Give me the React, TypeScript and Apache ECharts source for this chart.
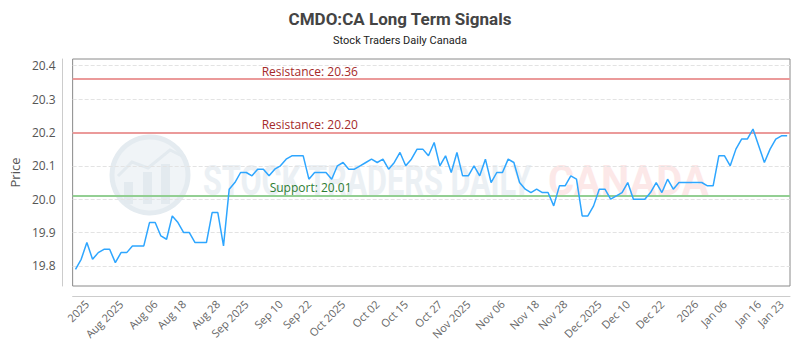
import React, { useEffect, useRef } from 'react';
import * as echarts from 'echarts';

const prices: number[] = [
  19.79, 19.82, 19.87, 19.82, 19.84, 19.85, 19.85, 19.81, 19.84, 19.84,
  19.86, 19.86, 19.86, 19.93, 19.93, 19.89, 19.88, 19.95, 19.93, 19.90,
  19.90, 19.87, 19.87, 19.87, 19.96, 19.96, 19.86, 20.03, 20.05, 20.08,
  20.08, 20.07, 20.09, 20.09, 20.07, 20.09, 20.10, 20.12, 20.13, 20.13,
  20.13, 20.06, 20.08, 20.08, 20.08, 20.06, 20.10, 20.11, 20.09, 20.09,
  20.10, 20.11, 20.12, 20.11, 20.12, 20.09, 20.11, 20.14, 20.10, 20.12,
  20.15, 20.15, 20.13, 20.17, 20.10, 20.13, 20.08, 20.14, 20.07, 20.07,
  20.10, 20.07, 20.12, 20.05, 20.08, 20.08, 20.12, 20.11, 20.05, 20.03,
  20.02, 20.03, 20.02, 20.02, 19.98, 20.04, 20.04, 20.07, 20.06, 19.95,
  19.95, 19.98, 20.03, 20.03, 20.00, 20.01, 20.02, 20.05, 20.00, 20.00,
  20.00, 20.02, 20.05, 20.02, 20.06, 20.03, 20.05, 20.05, 20.05, 20.05,
  20.05, 20.04, 20.04, 20.13, 20.13, 20.10, 20.15, 20.18, 20.18, 20.21,
  20.16, 20.11, 20.15, 20.18, 20.19, 20.19,
];

const categories: string[] = prices.map((_, i) => String(i));

const tickIndices: number[] = [2, 8, 14, 19, 25, 30, 36, 41, 47, 53, 58, 64, 69, 75, 81, 86, 92, 97, 103, 109, 114, 120, 124];
const tickLabels: string[] = [
  '2025', 'Aug 2025', 'Aug 06', 'Aug 18', 'Aug 28', 'Sep 2025', 'Sep 10', 'Sep 22',
  'Oct 2025', 'Oct 02', 'Oct 15', 'Oct 27', 'Nov 2025', 'Nov 06', 'Nov 18', 'Nov 28',
  'Dec 2025', 'Dec 10', 'Dec 22', '2026', 'Jan 06', 'Jan 16', 'Jan 23',
];

const resistanceLevels: number[] = [20.36, 20.2];
const supportLevels: number[] = [20.01];
const gridValues: number[] = [19.8, 19.9, 20.0, 20.1, 20.2, 20.3, 20.4];
const yMin = 19.74;
const yMax = 20.42;

export default function App() {
  const ref = useRef<HTMLDivElement>(null);

  useEffect(() => {
    if (!ref.current) return;
    const chart = echarts.init(ref.current, undefined, { renderer: 'svg' });
    const labelMap: Record<string, string> = {};
    tickIndices.forEach((idx, k) => { labelMap[categories[idx]] = tickLabels[k]; });
    const tickSet = new Set(tickIndices);

    const levelLine = (v: number, kind: 'Resistance' | 'Support') => ({
      yAxis: v,
      lineStyle: {
        color: kind === 'Resistance' ? '#eb9a9a' : '#93cf93',
        width: 2,
        type: 'solid',
      },
      label: {
        show: true,
        formatter: `${kind}: ${v.toFixed(2)}`,
        position: 'insideStartTop',
        distance: [kind === 'Resistance' ? 189 : 197, 2],
        color: kind === 'Resistance' ? '#a52a2a' : '#2e7d32',
        fontSize: 12,
        fontFamily: 'Open Sans',
      },
    });

    chart.setOption({
      animation: false,
      backgroundColor: '#ffffff',
      title: {
        text: 'CMDO:CA Long Term Signals',
        subtext: 'Stock Traders Daily Canada',
        left: 'center',
        top: 5,
        itemGap: 8,
        textStyle: { fontSize: 17, fontWeight: 'bold', color: '#444', fontFamily: 'Roboto' },
        subtextStyle: { fontSize: 11, color: '#222', fontFamily: 'Roboto' },
      },
      graphic: [
        {
          type: 'group',
          silent: true,
          z: 0,
          children: [
            { type: 'circle', shape: { cx: 150, cy: 175, r: 38 }, style: { fill: '#f0f4f7', stroke: '#e4ebf0', lineWidth: 5 } },
            { type: 'rect', shape: { x: 124, y: 182, width: 9, height: 22 }, style: { fill: '#e3eaef' } },
            { type: 'rect', shape: { x: 143, y: 172, width: 9, height: 32 }, style: { fill: '#e3eaef' } },
            { type: 'rect', shape: { x: 161, y: 164, width: 9, height: 40 }, style: { fill: '#e3eaef' } },
            { type: 'polyline', shape: { points: [[118, 176], [132, 162], [148, 168], [170, 150], [182, 156]] }, style: { stroke: '#e3eaef', lineWidth: 3, fill: null } },
            { type: 'text', x: 203, y: 181, scaleX: 0.73, style: { text: 'STOCK TRADERS DAILY', font: 'bold 42px Roboto', fill: '#ebf0f4', verticalAlign: 'middle' } },
            { type: 'text', x: 548, y: 181, scaleX: 0.95, style: { text: 'CANADA', font: 'bold 42px Roboto', fill: '#fce8e8', verticalAlign: 'middle' } },
          ],
        },
      ],
      grid: {
        left: 70,
        right: 10,
        top: 59,
        bottom: 64,
        show: true,
        borderColor: '#8a8a8a',
        borderWidth: 1,
        backgroundColor: 'transparent',
      },
      xAxis: {
        type: 'category',
        data: categories,
        boundaryGap: true,
        offset: 10,
        axisLine: { show: true, lineStyle: { color: '#cccccc' } },
        axisTick: { show: false },
        splitLine: { show: false },
        axisLabel: {
          rotate: 45,
          fontSize: 11,
          color: '#666',
          fontFamily: 'Open Sans',
          margin: 6,
          interval: (i: number) => tickSet.has(i),
          formatter: (v: string) => labelMap[v] ?? '',
        },
      },
      yAxis: {
        type: 'value',
        min: yMin,
        max: yMax,
        interval: 0.02,
        offset: 10,
        name: 'Price',
        nameLocation: 'middle',
        nameGap: 38,
        nameTextStyle: { fontSize: 13, color: '#555', fontFamily: 'Open Sans' },
        axisLine: { show: true, lineStyle: { color: '#cccccc' } },
        axisTick: { show: false },
        splitLine: { show: false },
        axisLabel: {
          fontSize: 12,
          color: '#555',
          fontFamily: 'Open Sans',
          margin: 7,
          formatter: (v: number) => {
            const t = v * 10;
            return Math.abs(t - Math.round(t)) < 1e-6 ? v.toFixed(1) : '';
          },
        },
      },
      series: [
        {
          type: 'line',
          data: [],
          z: 1,
          silent: true,
          markLine: {
            silent: true,
            symbol: 'none',
            animation: false,
            data: gridValues.map((v) => ({
              yAxis: v,
              lineStyle: { color: '#e3e3e3', width: 1, type: 'dashed' },
              label: { show: false },
            })),
          },
        },
        {
          type: 'line',
          data: [],
          z: 2,
          silent: true,
          markLine: {
            silent: true,
            symbol: 'none',
            animation: false,
            data: [
              ...resistanceLevels.map((v) => levelLine(v, 'Resistance')),
              ...supportLevels.map((v) => levelLine(v, 'Support')),
            ],
          },
        },
        {
          type: 'line',
          data: prices,
          z: 5,
          showSymbol: false,
          symbol: 'none',
          lineStyle: { color: '#2ea6ff', width: 1.5 },
        },
      ],
    });
    return () => chart.dispose();
  }, []);

  return <div ref={ref} style={{ position: 'fixed', left: 0, top: 0, width: 800, height: 350 }} />;
}
